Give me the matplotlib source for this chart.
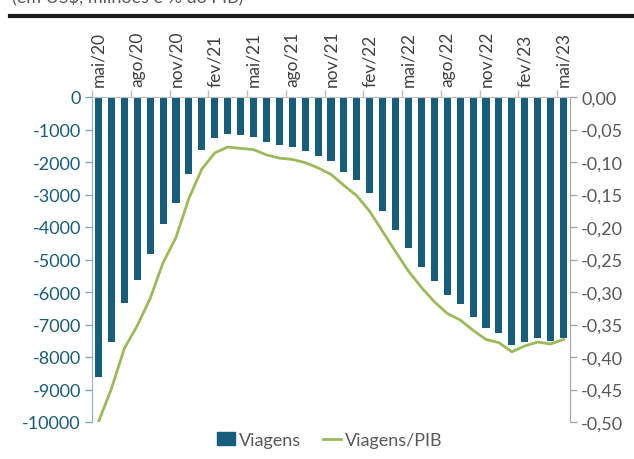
import matplotlib
matplotlib.use("Agg")
import matplotlib.pyplot as plt
from matplotlib.lines import Line2D
from matplotlib.patches import Patch
import numpy as np

plt.rcParams['font.family'] = ['Lato', 'DejaVu Sans']

# meses de mai/20 a mai/23
meses = ["mai/20", "jun/20", "jul/20", "ago/20", "set/20", "out/20", "nov/20", "dez/20",
         "jan/21", "fev/21", "mar/21", "abr/21", "mai/21", "jun/21", "jul/21", "ago/21",
         "set/21", "out/21", "nov/21", "dez/21", "jan/22", "fev/22", "mar/22", "abr/22",
         "mai/22", "jun/22", "jul/22", "ago/22", "set/22", "out/22", "nov/22", "dez/22",
         "jan/23", "fev/23", "mar/23", "abr/23", "mai/23"]

viagens = [-8610, -7540, -6350, -5640, -4840, -3905, -3250, -2365, -1635, -1255,
           -1130, -1170, -1235, -1380, -1480, -1550, -1655, -1810, -1965, -2300,
           -2545, -2960, -3505, -4080, -4655, -5240, -5675, -6105, -6360, -6755,
           -7100, -7255, -7640, -7525, -7430, -7500, -7430]

viagens_pib = [-0.500, -0.449, -0.387, -0.352, -0.310, -0.255, -0.216, -0.156, -0.111, -0.086,
               -0.077, -0.079, -0.081, -0.089, -0.094, -0.096, -0.101, -0.109, -0.119, -0.136,
               -0.152, -0.176, -0.207, -0.238, -0.268, -0.293, -0.315, -0.333, -0.343, -0.359,
               -0.373, -0.378, -0.392, -0.383, -0.377, -0.380, -0.373]

left_ticks = [0, -1000, -2000, -3000, -4000, -5000, -6000, -7000, -8000, -9000, -10000]
right_ticks = [0.00, -0.05, -0.10, -0.15, -0.20, -0.25, -0.30, -0.35, -0.40, -0.45, -0.50]

azul = "#175d7c"
verde = "#9bbb59"
cinza = "#595959"

fig = plt.figure(figsize=(6.34, 4.60), dpi=100)
ax = fig.add_axes([92 / 634, 1 - 423 / 460, (570 - 92) / 634, (423 - 98) / 460])

x = np.arange(len(meses))
ax.bar(x, viagens, width=0.55, color=azul, zorder=2)
ax.set_xlim(-0.5, len(meses) - 0.5)
ax.set_ylim(-10000, 0)
ax.set_yticks(left_ticks)
ax.set_yticklabels([str(v) for v in left_ticks])
ax.tick_params(axis='y', colors="#7fa7bb", labelcolor=azul, labelsize=13, length=5, width=1, pad=3)

# eixo x no topo
ax.xaxis.tick_top()
ax.set_xticks(x[::3])
ax.set_xticklabels(meses[::3], rotation=90)
ax.set_xticks(x[::3] - 0.5, minor=True)
ax.tick_params(axis='x', which='major', length=0, labelsize=12.5, labelcolor="#404040", pad=8)
ax.tick_params(axis='x', which='minor', length=5, color="#bfbfbf", width=1, top=True, bottom=False)

for s in ['bottom', 'right']:
    ax.spines[s].set_visible(False)
ax.spines['left'].set_color("#8fb0c2")
ax.spines['top'].set_color("#bfbfbf")

ax2 = ax.twinx()
ax2.plot(x, viagens_pib, color=verde, linewidth=2, zorder=3)
ax2.set_ylim(-0.5, 0)
ax2.set_yticks(right_ticks)
ax2.set_yticklabels([f"{v:.2f}".replace(".", ",") if v != 0 else "0,00" for v in right_ticks])
ax2.tick_params(axis='y', colors="#a6a6a6", labelcolor=cinza, labelsize=13, length=5, width=1, pad=3)
for s in ['bottom', 'left', 'top']:
    ax2.spines[s].set_visible(False)
ax2.spines['right'].set_color("#a6a6a6")

handles = [Patch(facecolor=azul, edgecolor=azul),
           Line2D([0], [0], color=verde, linewidth=2)]
fig.legend(handles, ["Viagens", "Viagens/PIB"], loc='center', bbox_to_anchor=(0.52, 1 - 441 / 460),
           ncol=2, frameon=False, fontsize=13, labelcolor=cinza, handlelength=1.0,
           handletextpad=0.2, columnspacing=1.2)

# titulo cortado no topo (como na referencia) e linha preta
fig.text(12 / 634, 1.0 + 2 / 460, "(em US$, milhões e % do PIB)", fontsize=13, color=cinza,
         va='center', ha='left')
fig.add_artist(Line2D([10 / 634, 1.0], [1 - 17 / 460, 1 - 17 / 460], color="#1a1a1a", linewidth=3,
                      transform=fig.transFigure))

fig.savefig("out.png", dpi=100)
